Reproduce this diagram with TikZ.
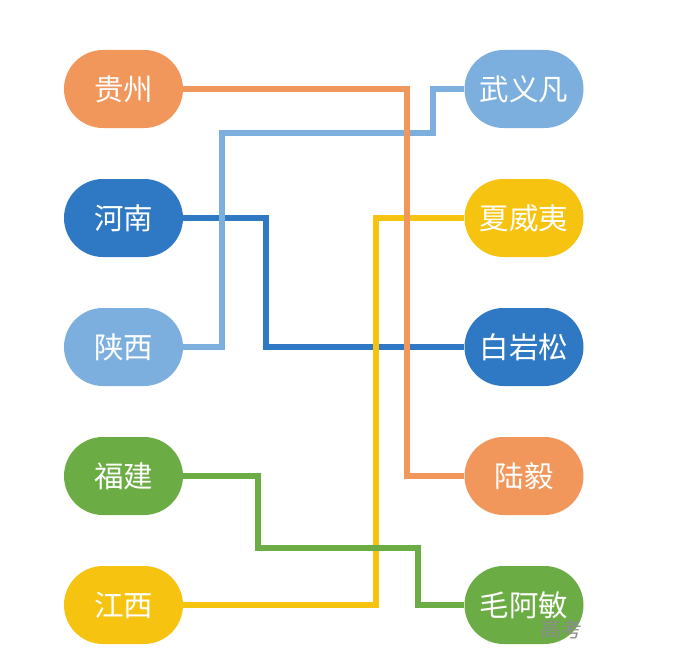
\documentclass[tikz,border=0pt]{standalone}
\usepackage{fontspec}
\newfontfamily\cjk{Noto Sans CJK SC}
\usepackage{tikz}
\definecolor{pOrange}{HTML}{F2975B}
\definecolor{pLight}{HTML}{7CAFDE}
\definecolor{pDark}{HTML}{2F79C4}
\definecolor{pYellow}{HTML}{F6C311}
\definecolor{pGreen}{HTML}{6BAC44}
\tikzset{
  pill/.style={rectangle, rounded corners=39pt, minimum width=119pt, minimum height=78pt,
    inner sep=0pt, text=white, font=\cjk\fontsize{29.5}{29.5}\selectfont},
  wire/.style={line width=6.5pt}
}

\begin{document}
\begin{tikzpicture}[x=1pt,y=-1pt]
      \useasboundingbox (0,0) rectangle (680,669);

      %LEFT COLUMN
      \node[pill,fill=pOrange] (gz) at (123.5,89) {贵州};
      \node[pill,fill=pDark] (hn) at (123.5,218) {河南};
      \node[pill,fill=pLight] (sx) at (123.5,347) {陕西};
      \node[pill,fill=pGreen] (fj) at (123.5,476) {福建};
      \node[pill,fill=pYellow] (jx) at (123.5,605) {江西};

      %RIGHT COLUMN
      \node[pill,fill=pLight] (wyf) at (524,89) {武义凡};
      \node[pill,fill=pYellow] (wxy) at (524,218) {夏威夷};
      \node[pill,fill=pDark] (bys) at (524,347) {白岩松};
      \node[pill,fill=pOrange] (ly) at (524,476) {陆毅};
      \node[pill,fill=pGreen] (mam) at (524,605) {毛阿敏};

      %CONNECTORS
      \draw[wire,pDark] (hn.east) -- (266,218) |- (bys.west);
      \draw[wire,pYellow] (jx.east) -- (376,605) |- (wxy.west);
      \draw[wire,pGreen] (fj.east) -- (258,476) -- (258,548) -- (418,548) |- (mam.west);
      \draw[wire,pLight] (sx.east) -- (222,347) -- (222,133) -- (433,133) |- (wyf.west);
      \draw[wire,pOrange] (gz.east) -- (407,89) |- (ly.west);

      %WATERMARK
      \begin{scope}
        \clip (530,610) rectangle (584,645);
        \node[text=gray!90, font=\cjk\fontsize{21}{21}\selectfont, anchor=west, inner sep=0pt] (wm) at (540,629) {高考};
      \end{scope}
\end{tikzpicture}
\end{document}
